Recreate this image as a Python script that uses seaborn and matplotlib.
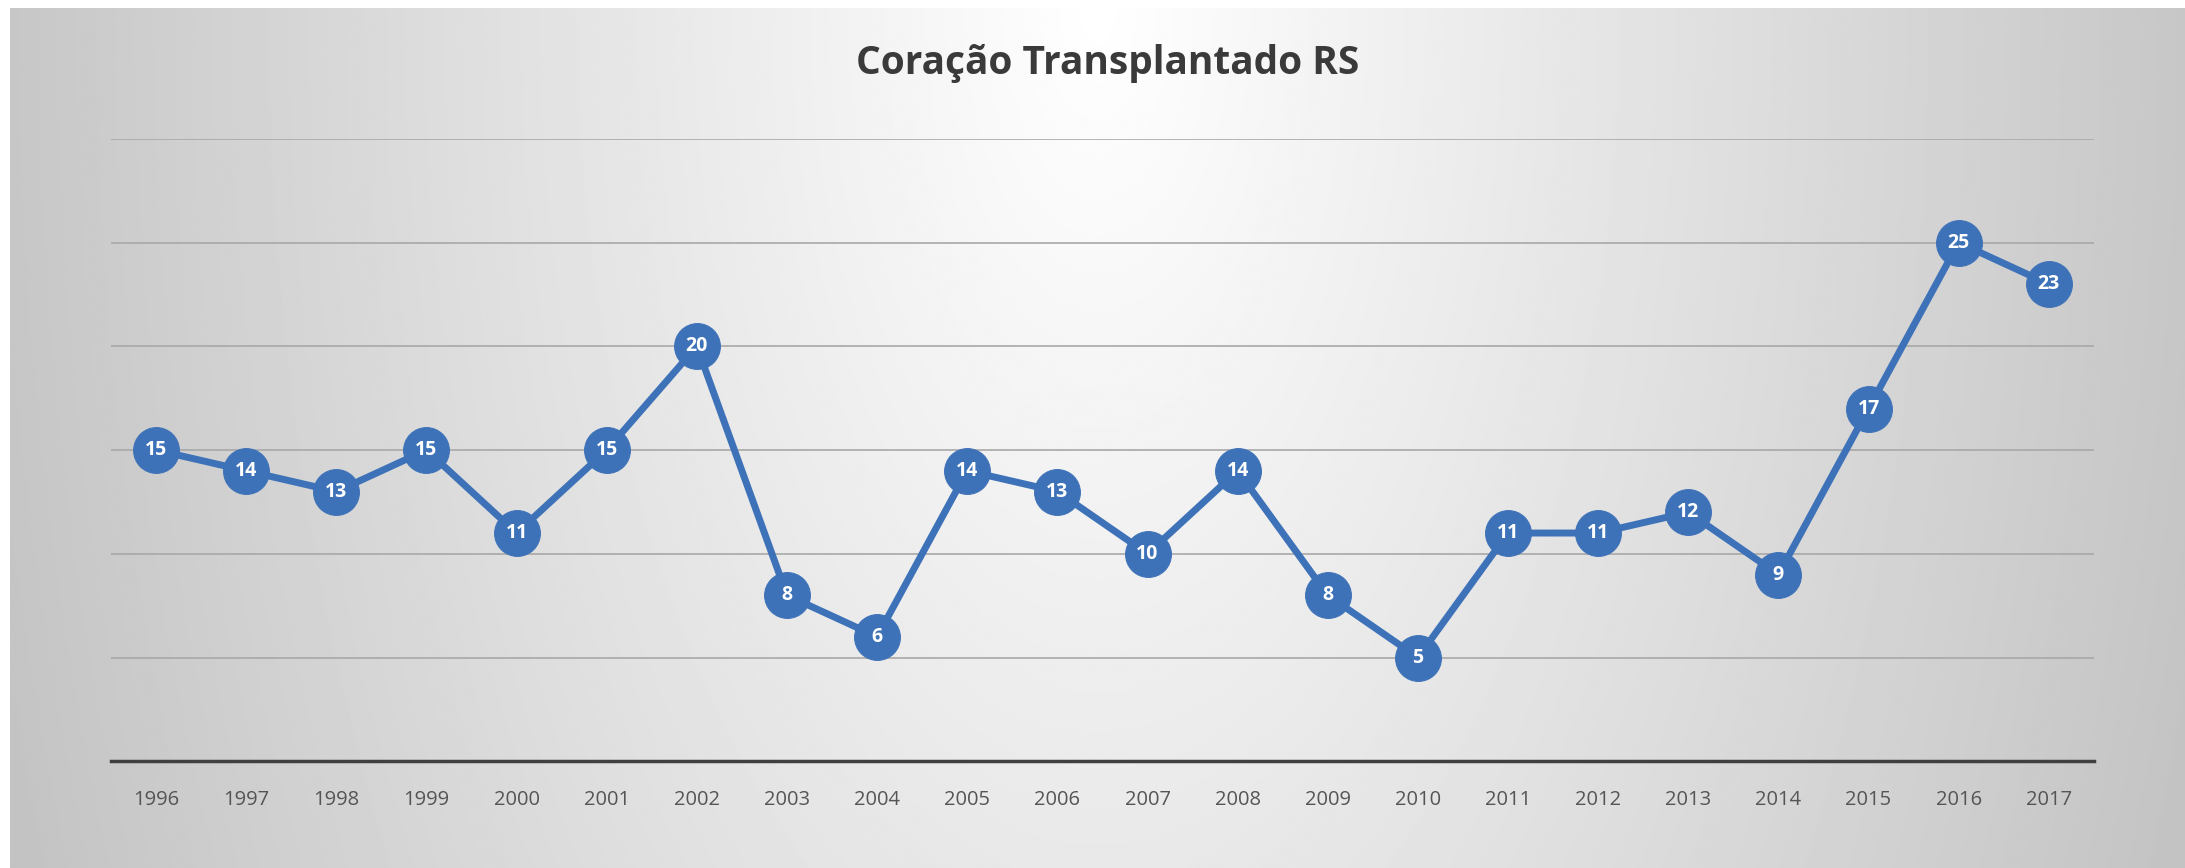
import numpy as np
import pandas as pd
import seaborn as sns
import matplotlib.pyplot as plt

# transplant counts per year
anos = ['1996', '1997', '1998', '1999', '2000', '2001', '2002', '2003', '2004', '2005', '2006',
        '2007', '2008', '2009', '2010', '2011', '2012', '2013', '2014', '2015', '2016', '2017']
transplantes = [15, 14, 13, 15, 11, 15, 20, 8, 6, 14, 13, 10, 14, 8, 5, 11, 11, 12, 9, 17, 25, 23]
titulo = 'Coração Transplantado RS'

df = pd.DataFrame({'Ano': anos, 'Transplantes': transplantes})

sns.set_style('white')
plt.rcParams['font.family'] = ['Open Sans', 'DejaVu Sans']

fig = plt.figure(figsize=(21.85, 8.68), dpi=100, facecolor='white')

# background panel: white at top centre, fading to grey towards the sides
bg = fig.add_axes([0.0045, 0, 0.9955, 0.991], zorder=0)
yy, xx = np.mgrid[0:1:300j, 0:1:800j]
d = np.sqrt(((xx - 0.5) * 2.0) ** 2 + (yy * 0.4) ** 2)
shade = np.clip(1.0 - 0.22 * d, 0.75, 1.0)
bg.imshow(shade, cmap='gray', vmin=0, vmax=1, aspect='auto', extent=[0, 1, 1, 0])
bg.axis('off')

ax = fig.add_axes([0.0508, 0.123, 0.9075, 0.717], zorder=1)
ax.set_facecolor('none')

sns.lineplot(data=df, x='Ano', y='Transplantes', ax=ax, color='#3E72B8', linewidth=5,
             marker='o', markersize=33, markeredgecolor='#3E72B8', sort=False)

for i, v in enumerate(transplantes):
    ax.text(i, v, str(v), ha='center', va='center', color='white', fontsize=14,
            fontweight='bold', zorder=5)

ax.set_xlim(-0.5, len(anos) - 0.5)
ax.set_ylim(0, 30)
ax.set_yticks([5, 10, 15, 20, 25, 30])
ax.yaxis.grid(True, color='#a8a8a8', linewidth=1.2)
ax.set_axisbelow(True)
ax.tick_params(axis='y', left=False, labelleft=False)
ax.tick_params(axis='x', bottom=False, labelsize=14.5, labelcolor='#555555', pad=17)
ax.set_xlabel('')
ax.set_ylabel('')
for s in ['top', 'right', 'left']:
    ax.spines[s].set_visible(False)
ax.spines['bottom'].set_color('#404040')
ax.spines['bottom'].set_linewidth(2.5)

fig.text(0.507, 0.927, titulo, ha='center', va='center', fontsize=28,
         fontweight='bold', color='#3a3a3a')

fig.savefig('out.png', dpi=100)
